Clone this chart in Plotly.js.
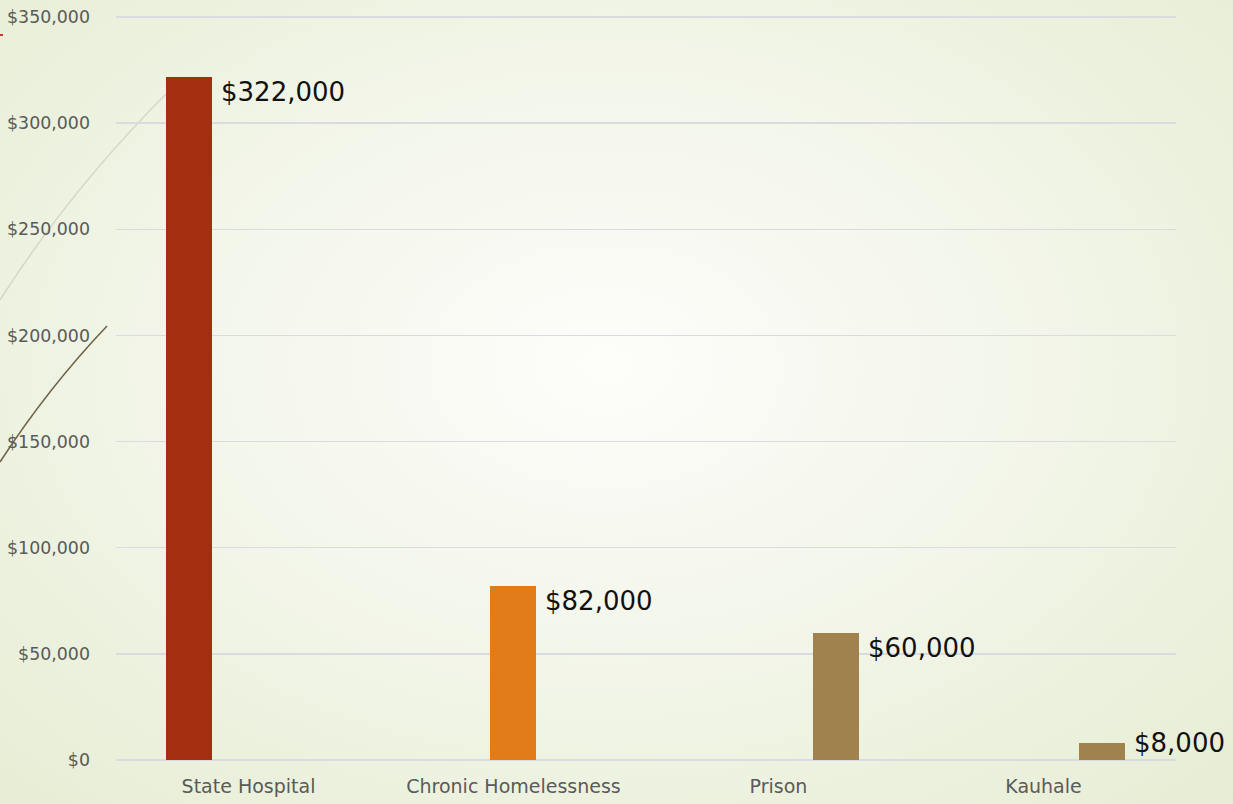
<!DOCTYPE html>
<html>
<head>
<meta charset="utf-8">
<script src="https://cdn.plot.ly/plotly-3.0.1.min.js"></script>
<style>
  html, body { margin:0; padding:0; width:1233px; height:804px; overflow:hidden; }
  body { background: radial-gradient(ellipse 900px 620px at 605px 365px, #fdfdfa 0%, #f3f6ea 45%, #e6edd3 100%); position:relative; }
  #deco { position:absolute; left:0; top:0; z-index:0; }
  #chart { position:absolute; left:0; top:0; width:1233px; height:804px; z-index:1; }
</style>
</head>
<body>
<svg id="deco" width="1233" height="804">
  <path d="M0,300 Q70,190 168,92" stroke="#d5d9c4" stroke-width="1.5" fill="none"/>
  <path d="M0,462 Q48,388 107,326" stroke="#706448" stroke-width="1.6" fill="none"/>
  <path d="M0,35 L3,35" stroke="#c0392b" stroke-width="2" fill="none"/>
</svg>
<div id="chart"></div>
<script>
const categories = ["State Hospital", "Chronic Homelessness", "Prison", "Kauhale"];
const costs = [322000, 82000, 60000, 8000];
const costLabels = ["$322,000", "$82,000", "$60,000", "$8,000"];
const yTickValues = [0, 50000, 100000, 150000, 200000, 250000, 300000, 350000];
const yTickLabels = ["$0", "$50,000", "$100,000", "$150,000", "$200,000", "$250,000", "$300,000", "$350,000"];

const barColors = ["#a32e10", "#e07c1a", "#a0824f", "#a0824f"];
const barOffsets = [-0.311, -0.089, 0.130, 0.134];
const barWidth = 0.174;

const trace = {
  type: "bar",
  x: categories,
  y: costs,
  width: categories.map(() => barWidth),
  offset: barOffsets,
  marker: { color: barColors, line: { width: 0 } },
  hoverinfo: "skip"
};

const annotations = categories.map((c, i) => ({
  x: i + barOffsets[i] + barWidth,
  y: costs[i],
  xref: "x",
  yref: "y",
  text: costLabels[i],
  showarrow: false,
  xanchor: "left",
  yanchor: costs[i] < 20000 ? "middle" : "top",
  xshift: 7,
  yshift: costs[i] < 20000 ? 0 : 2,
  font: { family: "DejaVu Sans", size: 26, color: "#111111" }
}));

const layout = {
  width: 1233,
  height: 804,
  margin: { l: 116, r: 57, t: 16, b: 44, pad: 0 },
  paper_bgcolor: "rgba(0,0,0,0)",
  plot_bgcolor: "rgba(0,0,0,0)",
  showlegend: false,
  bargap: 0,
  xaxis: {
    type: "category",
    range: [-0.5, 3.5],
    showgrid: false,
    zeroline: false,
    showline: false,
    ticks: "",
    ticklabelstandoff: 13,
    tickfont: { family: "DejaVu Sans", size: 19, color: "#5a5a5a" }
  },
  yaxis: {
    range: [0, 350500],
    tickvals: yTickValues,
    ticktext: yTickLabels,
    showgrid: true,
    gridcolor: "#dadbe0",
    gridwidth: 1.5,
    zeroline: true,
    zerolinecolor: "#dadbe0",
    zerolinewidth: 1.5,
    showline: false,
    ticks: "",
    ticklabelstandoff: 25,
    tickfont: { family: "DejaVu Sans", size: 17.4, color: "#5a5a5a" }
  },
  annotations: annotations
};

Plotly.newPlot("chart", [trace], layout, { displayModeBar: false, staticPlot: true });
</script>
</body>
</html>
